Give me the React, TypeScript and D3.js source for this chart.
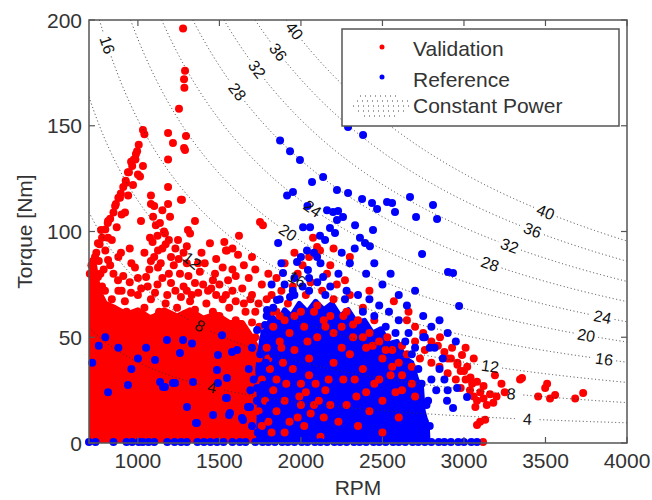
import React from 'react';
import * as d3 from 'd3';

// ---------- data ----------
const xTicks = [1000, 1500, 2000, 2500, 3000, 3500, 4000];
const yTicks = [0, 50, 100, 150, 200];
const powerLevels = [4, 8, 12, 16, 20, 24, 28, 32, 36, 40]; // kW
// [power level, rpm where the inline label sits]
const contourLabels: [number, number][] = [
  [16, 812], [28, 1610], [32, 1730], [36, 1860], [40, 1960],
  [40, 3500], [36, 3420], [32, 3280], [28, 3160], [24, 3850], [20, 3750], [16, 3860],
  [12, 3160], [8, 3290], [4, 3390],
  [24, 2070], [20, 1920], [16, 1975], [12, 1330], [8, 1380], [4, 1455],
];

// dense (saturated) areas of each series, outline as [rpm, torque]
const validationCore: [number, number][] = [
  [700, 0], [700, 84], [730, 86], [760, 72], [800, 66], [860, 64], [930, 61], [1000, 63],
  [1080, 59], [1160, 63], [1240, 60], [1320, 63], [1400, 59], [1480, 61], [1560, 57],
  [1640, 57], [1700, 50], [1750, 42], [1765, 25], [1775, 10], [1765, 0],
];
const referenceCore: [number, number][] = [
  [1740, 0], [1745, 20], [1735, 35], [1760, 50], [1790, 54], [1820, 60], [1860, 57], [1900, 63],
  [1940, 60], [1990, 66], [2040, 62], [2090, 67], [2140, 63], [2190, 66], [2240, 60], [2290, 63],
  [2340, 57], [2390, 58], [2440, 52], [2490, 54], [2540, 47], [2590, 48], [2640, 40], [2680, 38],
  [2710, 30], [2740, 26], [2750, 15], [2775, 8], [2780, 0],
];

// individual Validation points [rpm, torque]
const validation: [number, number][] = [
  [1277, 196], [1289, 176], [1283, 172], [1285, 168], [1252, 158], [1031, 148], [1040, 146],
  [1185, 146.6], [1215, 141.8], [1295, 145.2], [1283, 139.5], [1289, 138.5],
  [988, 136.6], [975, 134], [958, 133], [1031, 131], [1185, 134], [939, 128], [1013, 126],
  [1185, 121], [1264, 115], [927, 123], [890, 116], [1080, 113], [1185, 113], [860, 112],
  [921, 109], [1019, 105], [1093, 107], [1135, 104], [1197, 107], [817, 105], [1307, 100.7],
  [1074, 97], [1166, 99], [1246, 96], [1350, 105], [1442, 94.5], [1540, 91], [774, 100.7],
  [755, 94.5], [817, 97], [896, 90], [1123, 91], [1203, 88], [1369, 85], [737, 88], [817, 86.5],
  [982, 83], [1123, 83], [1258, 80], [1473, 80], [1553, 77], [755, 78.5], [878, 77], [1050, 78.5],
  [1203, 75.6], [1350, 75.6], [1430, 72], [798, 72], [958, 71], [1105, 71], [1264, 69],
  [705, 80], [715, 84], [725, 86], [745, 90], [765, 94], [780, 97], [800, 101], [815, 104],
  [830, 106], [850, 109], [865, 113], [880, 116], [895, 118], [910, 121], [925, 124], [945, 128],
  [965, 131], [985, 134], [995, 138], [1005, 141], [1000, 127], [970, 122], [940, 117], [900, 108],
  [870, 102], [840, 96], [800, 91], [760, 86],
  [1080, 117], [1100, 112], [1110, 103], [1120, 98], [1090, 95], [1150, 92], [1100, 88],
  [1150, 110], [1160, 100], [1190, 96], [1230, 92], [1280, 90], [1300, 85],
  [1320, 99], [1546, 91], [1614, 89], [1749, 104.5], [1767, 103], [1270, 115], [1700, 88],
  [1650, 84], [1580, 82], [1800, 80], [1620, 98],
  [760, 60], [820, 63], [860, 58], [930, 62], [990, 60], [1040, 64], [1090, 59], [1130, 62],
  [1200, 60], [1240, 64], [1290, 61], [1350, 63], [1390, 58], [1460, 62], [1500, 60], [1560, 64],
  [1600, 58], [1660, 62], [1700, 57],
  [740, 70], [780, 74], [840, 68], [880, 72], [920, 67], [1020, 73], [1080, 68], [1120, 75],
  [1170, 66], [1230, 72], [1280, 74], [1320, 67], [1370, 71], [1420, 66], [1450, 73], [1500, 75],
  [1540, 70], [1600, 67], [1640, 73], [1690, 68], [1740, 66],
  [770, 80], [830, 84], [910, 79], [960, 85], [1000, 78], [1070, 82], [1140, 85], [1190, 80],
  [1220, 84], [1310, 79], [1380, 81], [1410, 85], [1460, 77], [1520, 83], [1600, 79], [1680, 78],
  [1720, 82],
  [880, 88], [950, 92], [1040, 90], [1080, 86], [1170, 94], [1250, 87], [1300, 93], [1390, 90],
  [1480, 87], [1530, 95], [1580, 92],
  [900, 72], [950, 76], [1000, 70], [1060, 74], [1150, 78], [1180, 70], [1300, 72], [1330, 70],
  [1400, 75], [1480, 70], [1520, 68], [1580, 72], [1650, 66], [1700, 70], [1720, 62], [1760, 75],
  [1790, 68], [1820, 62], [850, 80], [790, 82],
  [1720, 50], [1740, 40], [1760, 30], [1780, 20], [1800, 10], [1790, 45], [1810, 35], [1830, 25],
  [1850, 15], [1870, 48], [1890, 38], [1910, 28], [1930, 10], [1960, 44], [1990, 22], [1820, 5],
  [1760, 8], [1740, 15], [1745, 55], [1730, 28],
  [1820, 70], [1850, 78], [1880, 72], [1900, 85], [1920, 66], [1950, 74], [1980, 80], [2000, 62],
  [2030, 70], [2060, 76], [2074, 97], [2099, 92.7], [2050, 88], [1960, 90], [2010, 84], [2100, 65],
  [2130, 72], [2160, 80], [2180, 60], [2200, 68], [2220, 75], [2250, 55], [2280, 62], [2300, 70],
  [2320, 50], [2350, 58], [2380, 64], [2400, 45], [2420, 52], [2450, 58], [2480, 48], [2500, 40],
  [2530, 50], [2560, 44], [2600, 38], [2620, 46], [2650, 42], [2680, 36], [2700, 48], [2730, 40],
  [2760, 44], [2800, 38], [2853, 50], [2927, 45], [2988, 41.6], [2850, 36], [2900, 33], [2950, 30],
  [2980, 34], [2117, 91], [2180, 84], [2270, 77], [2420, 72], [2570, 67], [2660, 62], [2300, 88],
  [2200, 92],
  [1800, 40], [1850, 30], [1880, 45], [1900, 20], [1950, 35], [1980, 12], [2000, 28], [2050, 40],
  [2080, 18], [2100, 50], [2150, 25], [2200, 38], [2230, 10], [2260, 30], [2300, 42], [2340, 22],
  [2380, 35], [2420, 15], [2450, 28], [2500, 20], [2550, 32], [2600, 12], [2620, 25], [2700, 22],
  [2250, 45], [2150, 55], [1830, 55], [1870, 60], [1930, 52], [2040, 48], [2350, 8], [2500, 5],
  [1900, 5], [2120, 3],
  [2000, 18], [2030, 24], [2060, 14], [2090, 28], [2110, 20], [2140, 12], [2170, 30], [2050, 32],
  [2020, 8], [2180, 18], [1850, 62], [1900, 58], [1960, 60], [2020, 55], [2080, 62], [2140, 58],
  [2200, 52], [2260, 60], [2320, 56], [2380, 50], [2440, 46], [2520, 44], [2560, 36], [2620, 32],
  [2680, 28], [2580, 24], [2480, 30], [2400, 24], [2330, 30], [2280, 18],
  [2650, 58], [2700, 55], [2750, 52], [2800, 48], [2840, 46], [2880, 43], [2920, 40], [2960, 37],
  [3000, 34], [3040, 31], [3080, 29], [3120, 27],
  [3037, 25], [3060, 22], [3080, 20], [3100, 24], [3120, 21], [3140, 18], [3160, 23], [3180, 19],
  [3200, 22], [3050, 28], [3010, 30], [2980, 26], [3070, 17], [3190, 32], [3356, 30.7], [3510, 28],
  [3731, 23.6], [3498, 26], [3559, 22.7], [3682, 21], [3344, 30], [3455, 22], [3528, 21],
  [3099, 10], [3130, 11], [3080, 8.5], [3117, 0.5], [3250, 24], [3230, 28], [2960, 38], [2900, 40],
  [3020, 36], [3010, 45], [3060, 40],
];

// individual Reference points [rpm, torque]
const reference: [number, number][] = [
  [1872, 143], [1933, 138], [1994, 133.8], [2068, 123.4], [2136, 125.8], [2221, 119.6],
  [2289, 118.2], [2375, 115.4], [2436, 113.5], [2467, 110.6], [2528, 114], [2559, 113.5],
  [2577, 109.2], [2669, 116.3], [2706, 106.9], [2810, 112.5], [2835, 105.9], [2197, 109.2],
  [2228, 109.7], [2258, 106.9], [2332, 103], [2178, 101.7], [2442, 100.7], [2362, 97],
  [2393, 94.6], [2423, 93], [2221, 105.4], [2209, 99.3], [2148, 96], [2013, 102], [2289, 149.4],
  [2381, 145.6], [2743, 89.4], [2902, 80.9], [2933, 80.4], [2970, 64.8],
  [1915, 117], [1951, 118.7], [1860, 94.6], [2056, 102], [2117, 98], [2037, 91], [2099, 88],
  [1976, 85.6], [1890, 80.4], [2043, 81.8], [2136, 78.5], [1933, 69], [1853, 67.6], [1792, 62.9],
  [2040, 112], [2080, 90], [2120, 85], [2160, 110], [2250, 90], [2300, 85], [2330, 92],
  [2400, 80], [2450, 85], [2500, 75], [2550, 80], [2600, 70], [2650, 65], [2700, 72], [2750, 60],
  [2800, 55], [2850, 58], [2900, 52], [2950, 48], [2750, 50], [2820, 45], [2870, 40], [2800, 30],
  [2780, 20], [2760, 10], [2830, 25], [1900, 75], [1950, 72], [2050, 78], [2000, 88],
  [1820, 75], [1880, 85], [1960, 78], [2010, 74], [2100, 76], [2180, 74], [2230, 80], [2280, 72],
  [2350, 70], [2420, 68], [2480, 65], [2540, 62], [2600, 58], [2660, 52], [2700, 45],
  [2760, 50], [2790, 45], [2850, 35], [2880, 30], [2900, 25], [2958, 26], [3019, 21.7],
  [2896, 20], [2933, 16.5],
  [1790, 60], [1830, 64], [1870, 68], [1960, 70], [2050, 72], [2150, 70], [2270, 68], [2380, 62],
  [2450, 60], [2520, 55], [2580, 52], [2640, 48], [2680, 42], [2720, 35], [2740, 28], [2770, 18],
  [2790, 8], [1700, 45], [1680, 35], [1690, 25], [1700, 8], [1710, 30], [1730, 20], [1750, 42],
  [1760, 12], [1735, 5], [1775, 52], [1785, 38], [1800, 28], [1830, 42], [1810, 18],
  [1277, 48.7], [1332, 47], [1258, 42.5], [1516, 51], [1577, 43], [1608, 44], [1491, 41.6],
  [1731, 53.4], [1780, 55.8], [1485, 34.5], [1546, 30.7], [1749, 34.5], [1136, 28.8], [1166, 26.5],
  [1228, 28.4], [1338, 28.8], [1491, 28.4], [1731, 26], [1105, 39.2], [1178, 48.7], [1546, 21.3],
  [1301, 17], [1688, 17], [817, 24], [939, 27.4], [1154, 26.5], [1215, 28.4], [1362, 9.5],
  [1461, 13.2], [1565, 14.2], [1675, 17], [1645, 10.9], [1540, 21.3], [1767, 27.4], [1356, 9.5],
  [1559, 13.2], [1638, 11.8], [1681, 17], [760, 46], [800, 50], [880, 45], [720, 38], [1000, 40],
  [1050, 45], [960, 35],
  [700, 0.5], [740, 0.5], [850, 0.5], [930, 0.5], [965, 0.5], [1005, 0.5], [1030, 0.5],
  [1065, 0.5], [1100, 0.5], [1180, 0.5], [1225, 0.5], [1265, 0.5], [1300, 0.5], [1365, 0.5],
  [1405, 0.5], [1445, 0.5], [1485, 0.5], [1525, 0.5], [1580, 0.5], [1625, 0.5], [1660, 0.5],
  [1720, 0.5], [1765, 0.5], [1800, 0.5], [1840, 0.5], [1885, 0.5], [1920, 0.5], [1960, 0.5],
  [2005, 0.5], [2040, 0.5], [2085, 0.5], [2120, 0.5], [2160, 0.5], [2205, 0.5], [2240, 0.5],
  [2280, 0.5], [2325, 0.5], [2360, 0.5], [2400, 0.5], [2445, 0.5], [2480, 0.5], [2520, 0.5],
  [2565, 0.5], [2600, 0.5], [2640, 0.5], [2685, 0.5], [2720, 0.5], [2760, 0.5], [2800, 0.5],
  [2845, 0.5], [2880, 0.5], [2920, 0.5], [2965, 0.5], [3000, 0.5], [3045, 0.5], [3080, 0.5],
];

// ---------- layout ----------
const W = 652, H = 500;
const L = 89, R = 627, T = 20, B = 443;
const FONT = "'Liberation Sans', Arial, sans-serif";
const RED = '#ff0000', BLUE = '#0000ff';
const K = 60000 / (2 * Math.PI); // torque[Nm] = P[kW] * K / rpm
const MR = 4; // marker radius

export default function App() {
  const x = d3.scaleLinear().domain([700, 4000]).range([L, R]);
  const y = d3.scaleLinear().domain([0, 200]).range([B, T]);
  const torque = (p: number, rpm: number) => (p * K) / rpm;

  const area = d3.line<[number, number]>().x(d => x(d[0])).y(d => y(d[1])).curve(d3.curveLinearClosed);

  const contourPath = (p: number) => {
    const labs = contourLabels.filter(l => l[0] === p).map(l => [x(l[1]), y(torque(p, l[1]))]);
    const r0 = Math.max(700, (p * K) / 200);
    const rs: number[] = [];
    for (let r = r0; r < 4000; r += 2) rs.push(r);
    rs.push(4000);
    const ln = d3.line<number>()
      .x(r => x(r))
      .y(r => y(torque(p, r)))
      .defined(r => labs.every(([lx, ly]) => Math.hypot(x(r) - lx, y(torque(p, r)) - ly) > 12));
    return ln(rs) || '';
  };

  const labelAngle = (p: number, rpm: number) => {
    const x1 = x(rpm - 10), y1 = y(torque(p, rpm - 10));
    const x2 = x(rpm + 10), y2 = y(torque(p, rpm + 10));
    return (Math.atan2(y2 - y1, x2 - x1) * 180) / Math.PI;
  };

  const axisCol = '#555';
  const textCol = '#333';

  return (
    <svg width={W} height={H} style={{ position: 'absolute', left: 0, top: 0, background: '#fff' }}
      fontFamily={FONT}>
      <rect x={0} y={0} width={W} height={H} fill="#fff" />
      <defs>
        <clipPath id="plotclip"><rect x={L} y={T} width={R - L} height={B - T} /></clipPath>
      </defs>
      {/* dense cores */}
      <g clipPath="url(#plotclip)">
        <path d={area(validationCore) || ''} fill={RED} stroke={RED} strokeWidth={5} strokeLinejoin="round" />
        <path d={area(referenceCore) || ''} fill={BLUE} stroke={BLUE} strokeWidth={5} strokeLinejoin="round" />
      </g>
      {/* points */}
      <g fill={RED}>
        {validation.map((d, i) => <circle key={i} cx={x(d[0])} cy={y(d[1])} r={MR} />)}
      </g>
      <g fill={BLUE}>
        {reference.map((d, i) => <circle key={i} cx={x(d[0])} cy={y(d[1])} r={MR} />)}
      </g>
      {/* constant power contours */}
      <g clipPath="url(#plotclip)">
        {powerLevels.map(p => (
          <path key={p} d={contourPath(p)} fill="none" stroke="#333" strokeWidth={1}
            strokeDasharray="1,2.6" />
        ))}
      </g>
      <g fontSize={16} fill="#111">
        {contourLabels.map(([p, rpm], i) => {
          const cx = x(rpm), cy = y(torque(p, rpm));
          return (
            <text key={i} x={cx} y={cy} textAnchor="middle" dominantBaseline="central"
              transform={`rotate(${labelAngle(p, rpm)},${cx},${cy})`}>{p}</text>
          );
        })}
      </g>
      {/* axes box */}
      <rect x={L} y={T} width={R - L} height={B - T} fill="none" stroke={axisCol} strokeWidth={1.5} />
      {xTicks.map(t => (
        <g key={t}>
          <line x1={x(t)} x2={x(t)} y1={B} y2={B - 6} stroke={axisCol} strokeWidth={1.2} />
          <line x1={x(t)} x2={x(t)} y1={T} y2={T + 6} stroke={axisCol} strokeWidth={1.2} />
          <text x={x(t)} y={468} textAnchor="middle" fontSize={21} fill={textCol}>{t}</text>
        </g>
      ))}
      {yTicks.map(t => (
        <g key={t}>
          <line x1={L} x2={L + 6} y1={y(t)} y2={y(t)} stroke={axisCol} strokeWidth={1.2} />
          <line x1={R} x2={R - 6} y1={y(t)} y2={y(t)} stroke={axisCol} strokeWidth={1.2} />
          <text x={82} y={y(t)} textAnchor="end" dominantBaseline="central" fontSize={21}
            fill={textCol}>{t}</text>
        </g>
      ))}
      <text x={(L + R) / 2} y={495} textAnchor="middle" fontSize={21} fill={textCol}>RPM</text>
      <text transform={`translate(32,${(T + B) / 2}) rotate(-90)`} textAnchor="middle" fontSize={21}
        fill={textCol}>Torque [Nm]</text>
      {/* legend */}
      <g>
        <rect x={342} y={29} width={277} height={97} fill="#fff" stroke={axisCol} strokeWidth={1.5} />
        <circle cx={382} cy={47} r={2.5} fill={RED} />
        <text x={413} y={56} fontSize={21} fill={textCol}>Validation</text>
        <circle cx={382} cy={77} r={2.5} fill={BLUE} />
        <text x={413} y={86.5} fontSize={21} fill={textCol}>Reference</text>
        {[[360, 96, 400, 96], [354, 101, 410, 101], [352, 106, 410, 106], [354, 111, 406, 111], [362, 116, 398, 116]].map((s, i) => (
          <line key={i} x1={s[0]} y1={s[1]} x2={s[2]} y2={s[3]} stroke="#444" strokeWidth={1}
            strokeDasharray="1,4" strokeDashoffset={i * 2} />
        ))}
        <text x={413} y={113} fontSize={21} fill={textCol}>Constant Power</text>
      </g>
    </svg>
  );
}
